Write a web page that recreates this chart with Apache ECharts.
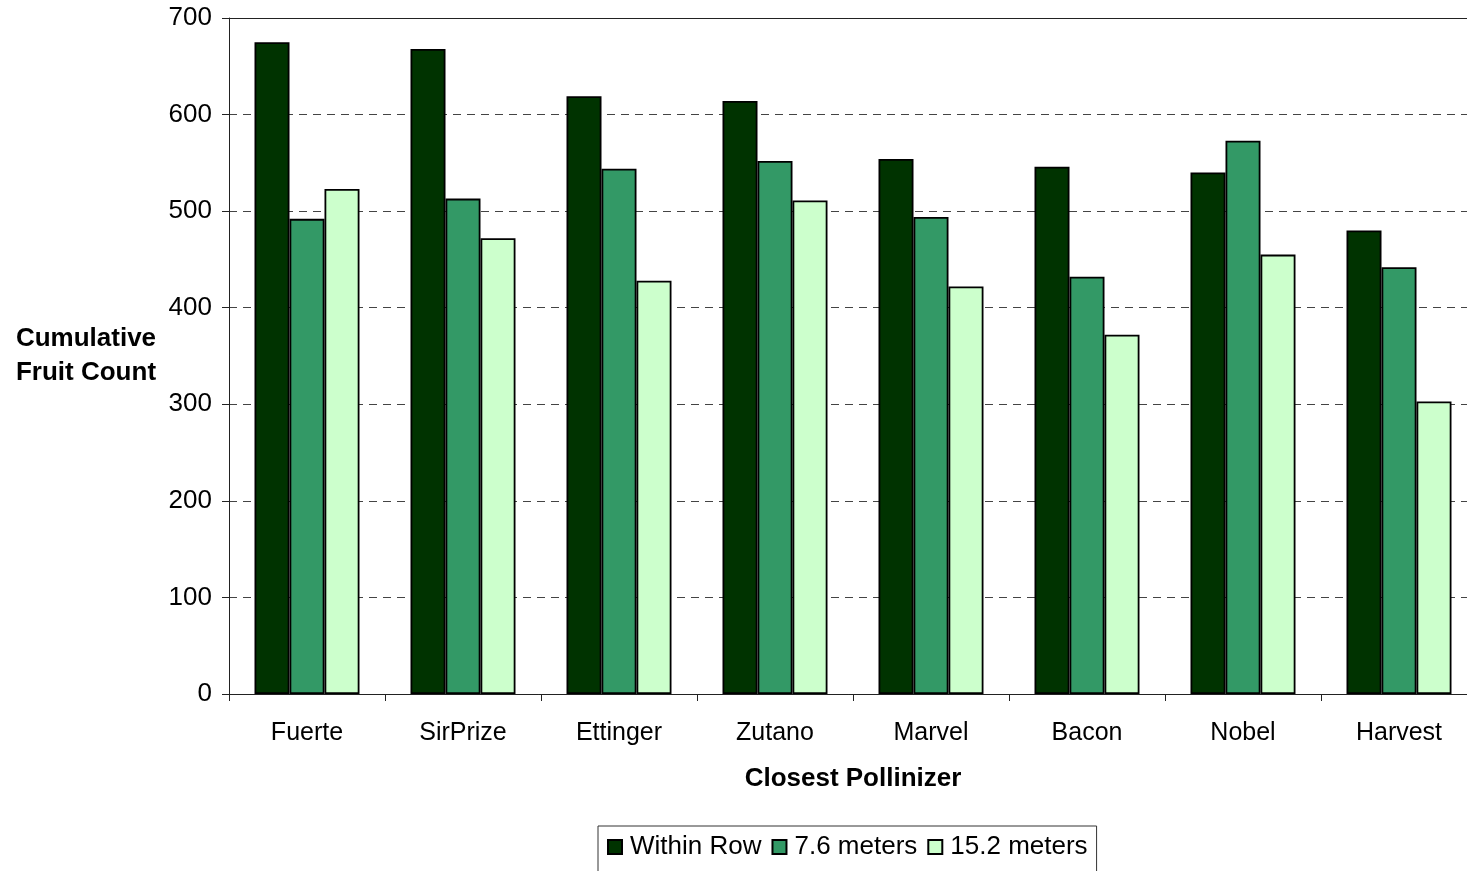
<!DOCTYPE html>
<html>
<head>
<meta charset="utf-8">
<script src="https://cdn.jsdelivr.net/npm/echarts@6/dist/echarts.min.js"></script>
<style>
  html, body { margin: 0; padding: 0; background: #fff; }
  #chart { width: 1467px; height: 871px; }
</style>
</head>
<body>
<div id="chart"></div>
<script>
// Pollinizer cultivars on the category axis
const categories = ['Fuerte', 'SirPrize', 'Ettinger', 'Zutano', 'Marvel', 'Bacon', 'Nobel', 'Harvest'];
// Cumulative fruit count by distance from the closest pollinizer
const withinRow = [675, 668, 619, 614, 554, 546, 540, 480];
const meters76  = [492, 513, 544, 552, 494, 432, 573, 442];
const meters152 = [523, 472, 428, 511, 422, 372, 455, 303];
const seriesNames = ['Within Row', '7.6 meters', '15.2 meters'];
const seriesColors = ['#003300', '#339966', '#ccffcc'];

const FONT = '"Liberation Sans", Arial, sans-serif';
const chart = echarts.init(document.getElementById('chart'), null, { renderer: 'canvas' });

const mkSeries = (name, data, color) => ({
  name: name,
  type: 'bar',
  data: data,
  xAxisIndex: 0,
  barGap: '0%',
  barCategoryGap: '32.7%',
  itemStyle: { color: color, borderColor: '#000', borderWidth: 1.8 },
  emphasis: { disabled: true }
});

chart.setOption({
  animation: false,
  textStyle: { fontFamily: FONT },
  // the plot runs a little past the right edge of the canvas
  grid: { left: 229, right: -10, top: 18, bottom: 177, containLabel: false, outerBoundsMode: 'none' },
  legend: {
    data: seriesNames,
    left: 598,
    top: 826,
    orient: 'horizontal',
    itemWidth: 14,
    itemHeight: 14,
    itemGap: 10,
    padding: [8, 9, 16, 9],
    borderColor: '#333',
    borderWidth: 1,
    icon: 'rect',
    textStyle: { fontFamily: FONT, fontSize: 26, color: '#000', padding: [0, 0, 0, 3] }
  },
  xAxis: [
    {
      type: 'category',
      data: categories,
      position: 'bottom',
      axisLine: { show: true, lineStyle: { color: '#222', width: 1 } },
      axisTick: { show: true, length: 7, alignWithLabel: false, lineStyle: { color: '#222' } },
      axisLabel: { fontFamily: FONT, fontSize: 25, color: '#000', margin: 27 },
      name: 'Closest Pollinizer',
      nameLocation: 'middle',
      nameGap: 85,
      nameTextStyle: { fontFamily: FONT, fontSize: 26, fontWeight: 'bold', color: '#000', verticalAlign: 'middle' }
    },
    {
      // plain frame line across the top of the plot
      type: 'category',
      data: categories,
      position: 'top',
      axisLine: { show: true, lineStyle: { color: '#222', width: 1 } },
      axisTick: { show: false },
      axisLabel: { show: false }
    }
  ],
  yAxis: {
    type: 'value',
    min: 0,
    max: 700,
    interval: 100,
    axisLine: { show: true, lineStyle: { color: '#222', width: 1 } },
    axisTick: { show: true, length: 7, lineStyle: { color: '#222' } },
    axisLabel: { fontFamily: FONT, fontSize: 26, color: '#000', margin: 17 },
    splitLine: { show: true, lineStyle: { color: '#444', type: [8, 6], width: 1 } }
  },
  graphic: [
    {
      type: 'text',
      x: 86,
      y: 356,
      style: {
        text: 'Cumulative\nFruit Count',
        align: 'center',
        verticalAlign: 'middle',
        font: 'bold 26px ' + FONT,
        lineHeight: 34,
        fill: '#000'
      }
    }
  ],
  series: [
    mkSeries(seriesNames[0], withinRow, seriesColors[0]),
    mkSeries(seriesNames[1], meters76, seriesColors[1]),
    mkSeries(seriesNames[2], meters152, seriesColors[2])
  ]
});
</script>
</body>
</html>
